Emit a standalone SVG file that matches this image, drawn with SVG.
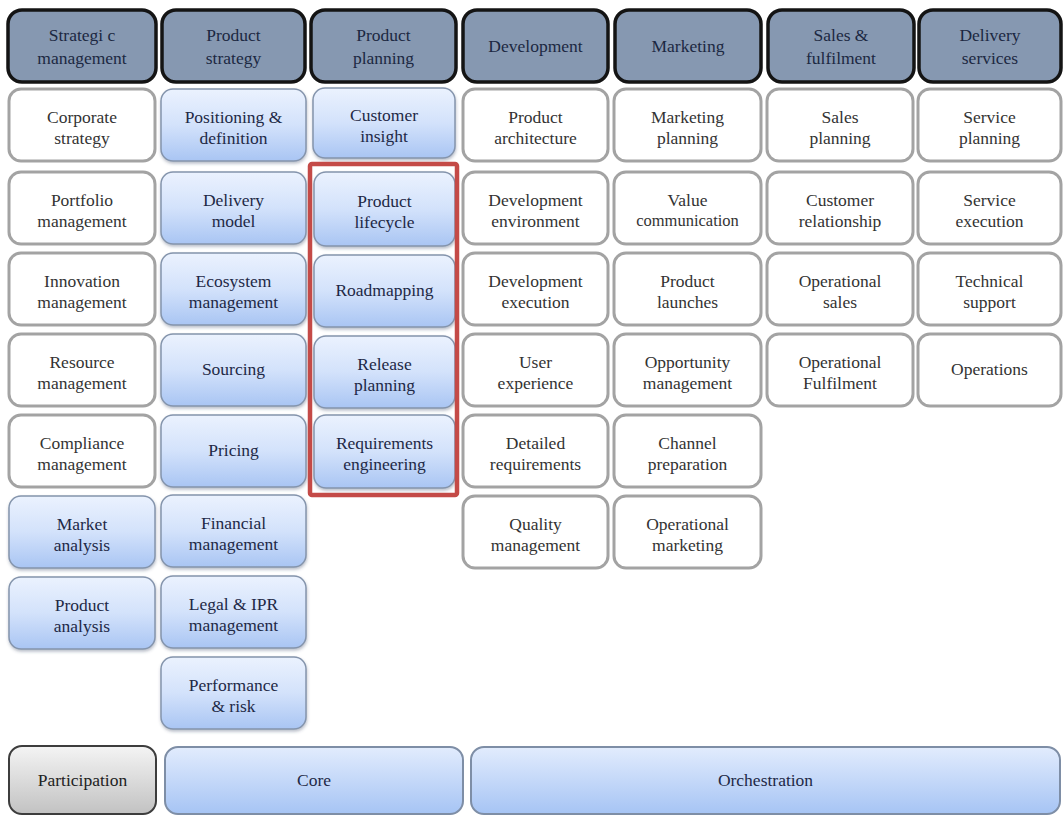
<svg xmlns="http://www.w3.org/2000/svg" width="1063" height="816" viewBox="0 0 1063 816">
  <style>
    text { font-family: "Liberation Serif", "Times New Roman", serif; font-size: 17.5px; text-anchor: middle; }
    .hdr rect { fill: #8698b1; stroke: #141414; stroke-width: 3.5; }
    .hdr text { fill: #1c2842; }
    .w rect { fill: #ffffff; stroke: #a3a3a3; stroke-width: 3; }
    .w text { fill: #333333; }
    .b rect { fill: url(#blueGrad); stroke: #8494ac; stroke-width: 1.5; filter: url(#shadow); }
    .b text { fill: #1e2946; }
    .w text.small { font-size: 16.5px; }
  </style>
  <defs>
    <linearGradient id="blueGrad" x1="0" y1="0" x2="0" y2="1">
      <stop offset="0" stop-color="#ebf2fe"/>
      <stop offset="0.5" stop-color="#d3e2fb"/>
      <stop offset="1" stop-color="#a9c5f3"/>
    </linearGradient>
    <linearGradient id="barGrad" x1="0" y1="0" x2="0" y2="1">
      <stop offset="0" stop-color="#e2ecfd"/>
      <stop offset="1" stop-color="#a6c4f4"/>
    </linearGradient>
    <linearGradient id="greyGrad" x1="0" y1="0" x2="0" y2="1">
      <stop offset="0" stop-color="#f4f4f4"/>
      <stop offset="1" stop-color="#c2c2c2"/>
    </linearGradient>
    <filter id="shadow" x="-10%" y="-10%" width="120%" height="130%">
      <feDropShadow dx="0.5" dy="2" stdDeviation="1.5" flood-color="#3a4a66" flood-opacity="0.35"/>
    </filter>
  </defs>

  <!-- column headers -->
  <g id="h1" class="hdr"><rect x="8" y="10" width="148" height="72" rx="14"/><text x="82" y="41">Strategi c</text><text x="82" y="64">management</text></g>
  <g id="h2" class="hdr"><rect x="162" y="10" width="143" height="72" rx="14"/><text x="233.5" y="41">Product</text><text x="233.5" y="64">strategy</text></g>
  <g id="h3" class="hdr"><rect x="311" y="10" width="145" height="72" rx="14"/><text x="383.5" y="41">Product</text><text x="383.5" y="64">planning</text></g>
  <g id="h4" class="hdr"><rect x="463" y="10" width="145" height="72" rx="14"/><text x="535.5" y="52">Development</text></g>
  <g id="h5" class="hdr"><rect x="615" y="10" width="146" height="72" rx="14"/><text x="688" y="52">Marketing</text></g>
  <g id="h6" class="hdr"><rect x="768" y="10" width="146" height="72" rx="14"/><text x="841" y="41">Sales &amp;</text><text x="841" y="64">fulfilment</text></g>
  <g id="h7" class="hdr"><rect x="919" y="10" width="142" height="72" rx="14"/><text x="990" y="41">Delivery</text><text x="990" y="64">services</text></g>

  <!-- Strategic management -->
  <g id="n-corporate" class="w"><rect x="9" y="89" width="146" height="72" rx="12"/><text x="82" y="123">Corporate</text><text x="82" y="144">strategy</text></g>
  <g id="n-portfolio" class="w"><rect x="9" y="172" width="146" height="72" rx="12"/><text x="82" y="206">Portfolio</text><text x="82" y="227">management</text></g>
  <g id="n-innovation" class="w"><rect x="9" y="253" width="146" height="72" rx="12"/><text x="82" y="287">Innovation</text><text x="82" y="308">management</text></g>
  <g id="n-resource" class="w"><rect x="9" y="334" width="146" height="72" rx="12"/><text x="82" y="368">Resource</text><text x="82" y="389">management</text></g>
  <g id="n-compliance" class="w"><rect x="9" y="415" width="146" height="72" rx="12"/><text x="82" y="449">Compliance</text><text x="82" y="470">management</text></g>
  <g id="n-market" class="b"><rect x="9" y="496" width="146" height="72" rx="12"/><text x="82" y="530">Market</text><text x="82" y="551">analysis</text></g>
  <g id="n-prodanalysis" class="b"><rect x="9" y="577" width="146" height="72" rx="12"/><text x="82" y="611">Product</text><text x="82" y="632">analysis</text></g>

  <!-- Product strategy -->
  <g id="n-positioning" class="b"><rect x="161" y="89" width="145" height="72" rx="12"/><text x="233.5" y="123">Positioning &amp;</text><text x="233.5" y="144">definition</text></g>
  <g id="n-delivery" class="b"><rect x="161" y="172" width="145" height="72" rx="12"/><text x="233.5" y="206">Delivery</text><text x="233.5" y="227">model</text></g>
  <g id="n-ecosystem" class="b"><rect x="161" y="253" width="145" height="72" rx="12"/><text x="233.5" y="287">Ecosystem</text><text x="233.5" y="308">management</text></g>
  <g id="n-sourcing" class="b"><rect x="161" y="334" width="145" height="72" rx="12"/><text x="233.5" y="375">Sourcing</text></g>
  <g id="n-pricing" class="b"><rect x="161" y="415" width="145" height="72" rx="12"/><text x="233.5" y="456">Pricing</text></g>
  <g id="n-financial" class="b"><rect x="161" y="495" width="145" height="72" rx="12"/><text x="233.5" y="529">Financial</text><text x="233.5" y="550">management</text></g>
  <g id="n-legal" class="b"><rect x="161" y="576" width="145" height="72" rx="12"/><text x="233.5" y="610">Legal &amp; IPR</text><text x="233.5" y="631">management</text></g>
  <g id="n-performance" class="b"><rect x="161" y="657" width="145" height="72" rx="12"/><text x="233.5" y="691">Performance</text><text x="233.5" y="712">&amp; risk</text></g>

  <!-- Product planning -->
  <g id="n-insight" class="b"><rect x="313" y="88" width="142" height="70" rx="12"/><text x="384" y="121">Customer</text><text x="384" y="142">insight</text></g>
  <g id="n-lifecycle" class="b"><rect x="314" y="172" width="141" height="74" rx="12"/><text x="384.5" y="207">Product</text><text x="384.5" y="228">lifecycle</text></g>
  <g id="n-roadmapping" class="b"><rect x="314" y="255" width="141" height="72" rx="12"/><text x="384.5" y="296">Roadmapping</text></g>
  <g id="n-release" class="b"><rect x="314" y="336" width="141" height="72" rx="12"/><text x="384.5" y="370">Release</text><text x="384.5" y="391">planning</text></g>
  <g id="n-requirements" class="b"><rect x="314" y="415" width="141" height="73" rx="12"/><text x="384.5" y="449">Requirements</text><text x="384.5" y="470">engineering</text></g>

  <!-- Development -->
  <g id="n-architecture" class="w"><rect x="463" y="89" width="145" height="72" rx="12"/><text x="535.5" y="123">Product</text><text x="535.5" y="144">architecture</text></g>
  <g id="n-devenv" class="w"><rect x="463" y="172" width="145" height="72" rx="12"/><text x="535.5" y="206">Development</text><text x="535.5" y="227">environment</text></g>
  <g id="n-devexec" class="w"><rect x="463" y="253" width="145" height="72" rx="12"/><text x="535.5" y="287">Development</text><text x="535.5" y="308">execution</text></g>
  <g id="n-ux" class="w"><rect x="463" y="334" width="145" height="72" rx="12"/><text x="535.5" y="368">User</text><text x="535.5" y="389">experience</text></g>
  <g id="n-detailed" class="w"><rect x="463" y="415" width="145" height="72" rx="12"/><text x="535.5" y="449">Detailed</text><text x="535.5" y="470">requirements</text></g>
  <g id="n-quality" class="w"><rect x="463" y="496" width="145" height="72" rx="12"/><text x="535.5" y="530">Quality</text><text x="535.5" y="551">management</text></g>

  <!-- Marketing -->
  <g id="n-mktplanning" class="w"><rect x="614" y="89" width="147" height="72" rx="12"/><text x="687.5" y="123">Marketing</text><text x="687.5" y="144">planning</text></g>
  <g id="n-value" class="w"><rect x="614" y="172" width="147" height="72" rx="12"/><text x="687.5" y="206">Value</text><text class="small" x="687.5" y="226">communication</text></g>
  <g id="n-launches" class="w"><rect x="614" y="253" width="147" height="72" rx="12"/><text x="687.5" y="287">Product</text><text x="687.5" y="308">launches</text></g>
  <g id="n-opportunity" class="w"><rect x="614" y="334" width="147" height="72" rx="12"/><text x="687.5" y="368">Opportunity</text><text x="687.5" y="389">management</text></g>
  <g id="n-channel" class="w"><rect x="614" y="415" width="147" height="72" rx="12"/><text x="687.5" y="449">Channel</text><text x="687.5" y="470">preparation</text></g>
  <g id="n-opmarketing" class="w"><rect x="614" y="496" width="147" height="72" rx="12"/><text x="687.5" y="530">Operational</text><text x="687.5" y="551">marketing</text></g>

  <!-- Sales & fulfilment -->
  <g id="n-salesplanning" class="w"><rect x="767" y="89" width="146" height="72" rx="12"/><text x="840" y="123">Sales</text><text x="840" y="144">planning</text></g>
  <g id="n-customer" class="w"><rect x="767" y="172" width="146" height="72" rx="12"/><text x="840" y="206">Customer</text><text x="840" y="227">relationship</text></g>
  <g id="n-opsales" class="w"><rect x="767" y="253" width="146" height="72" rx="12"/><text x="840" y="287">Operational</text><text x="840" y="308">sales</text></g>
  <g id="n-opfulfil" class="w"><rect x="767" y="334" width="146" height="72" rx="12"/><text x="840" y="368">Operational</text><text x="840" y="389">Fulfilment</text></g>

  <!-- Delivery services -->
  <g id="n-serviceplanning" class="w"><rect x="918" y="89" width="143" height="72" rx="12"/><text x="989.5" y="123">Service</text><text x="989.5" y="144">planning</text></g>
  <g id="n-serviceexec" class="w"><rect x="918" y="172" width="143" height="72" rx="12"/><text x="989.5" y="206">Service</text><text x="989.5" y="227">execution</text></g>
  <g id="n-techsupport" class="w"><rect x="918" y="253" width="143" height="72" rx="12"/><text x="989.5" y="287">Technical</text><text x="989.5" y="308">support</text></g>
  <g id="n-operations" class="w"><rect x="918" y="334" width="143" height="72" rx="12"/><text x="989.5" y="375">Operations</text></g>

  <!-- highlight frame around the planning activities -->
  <g id="highlight">
    <rect x="310" y="164" width="147" height="331" rx="2" fill="none" stroke="#c44a47" stroke-width="4.5"/>
  </g>

  <!-- bottom bands -->
  <g id="participation"><rect x="9" y="746" width="147" height="68" rx="13" fill="url(#greyGrad)" stroke="#3d3d3d" stroke-width="2"/><text x="82.5" y="786" fill="#222">Participation</text></g>
  <g id="core"><rect x="165" y="747" width="298" height="67" rx="13" fill="url(#barGrad)" stroke="#7e8ea6" stroke-width="2"/><text x="314" y="786" fill="#1e2946">Core</text></g>
  <g id="orchestration"><rect x="471" y="747" width="589" height="67" rx="13" fill="url(#barGrad)" stroke="#7e8ea6" stroke-width="2"/><text x="765.5" y="786" fill="#1e2946">Orchestration</text></g>

  <!-- no connectors in this chart -->
  <g id="connectors"/>
</svg>
